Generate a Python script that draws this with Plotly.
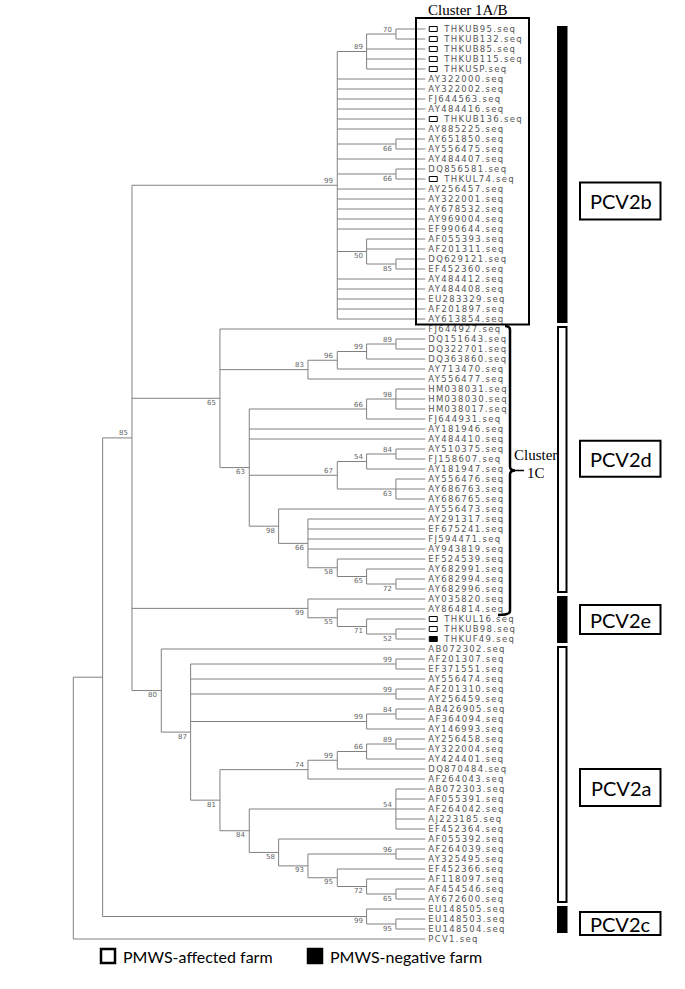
import plotly.graph_objects as go

# ------------------------------------------------------------------ data
CLADE_PCV2B = ("(((THKUB95,THKUB132)70,THKUB85,THKUB115,THKUSP)89,AY322000,AY322002,FJ644563,"
               "AY484416,THKUB136,AY885225,(AY651850,AY556475)66,AY484407,(DQ856581,THKUL74)66,"
               "AY256457,AY322001,AY678532,AY969004,EF990644,(AF055393,AF201311,(DQ629121,EF452360)85)50,"
               "AY484412,AY484408,EU283329,AF201897,AY613854)99")
CLADE_PCV2D = ("(FJ644927,((((DQ151643,DQ322701)89,DQ363860)99,AY713470)96,AY556477)83,"
               "(((HM038031,HM038030,HM038017)98,FJ644931)66,AY181946,AY484410,"
               "(((AY510375,FJ158607)84,AY181947)54,(AY556476,AY686763,AY686765)63)67,"
               "(AY556473,(AY291317,EF675241,FJ594471,AY943819,(EF524539,(AY682991,(AY682994,AY682996)72)65)58)66)98)63)65")
CLADE_PCV2E = "(AY035820,(AY864814,(THKUL16,(THKUB98,THKUF49)52)71)55)99"
CLADE_PCV2A = ("(AB072302,((AF201307,EF371551)99,AY556474,(AF201310,AY256459)99,((AB426905,AF364094)84,AY146993)99,"
               "(((((AY256458,AY322004)89,AY424401)66,DQ870484)99,AF264043)74,"
               "((AB072303,AF055391,AF264042,AJ223185,EF452364)54,"
               "(AF055392,((AF264039,AY325495)96,(EF452366,(AF118097,(AF454546,AY672600)65)72)95)93)58)84)81)87)80")
CLADE_PCV2C = "(EU148505,(EU148503,EU148504)95)99"
TREE = "(((" + CLADE_PCV2B + "," + CLADE_PCV2D + "," + CLADE_PCV2E + "," + CLADE_PCV2A + ")85," + CLADE_PCV2C + "),PCV1);"

OPEN_FARM = ["THKUB95", "THKUB132", "THKUB85", "THKUB115", "THKUSP", "THKUB136", "THKUL74",
             "THKUL16", "THKUB98"]
NEG_FARM = ["THKUF49"]

# middle children whose bootstrap value is printed under the branch (first leaf of that clade)
BOOT_BELOW_MIDDLE = ["AY651850", "DQ856581", "AF055393", "FJ644927", "AY035820"]

GENOTYPES = ["PCV2b", "PCV2d", "PCV2e", "PCV2a", "PCV2c"]
GT_FIRST = ["THKUB95", "FJ644927", "AY035820", "AB072302", "EU148505"]
GT_LAST = ["AY613854", "AY682996", "THKUF49", "AY672600", "EU148504"]
GT_FILLED = [True, False, True, False, True]

CLUSTER_1AB = ["THKUB95", "AY613854"]
CLUSTER_1C = ["FJ644927", "AY864814"]
CLUSTER_1AB_TEXT = "Cluster 1A/B"
CLUSTER_1C_TEXT = ["Cluster", "1C"]
LEGEND_TEXT = ["PMWS-affected farm", "PMWS-negative farm"]

# ------------------------------------------------------------------ style / geometry
W, H = 685, 989
X0, DX = 73.3, 29.33      # pixel of root level, pixels per level
Y0, DY = 29.0, 10.0       # pixel of first leaf, pixels per leaf
GT_BOX_CY = [201, 458.7, 619.5, 787.5, 923.5]
GT_BOX_H = [37, 36, 29, 37, 23]
LINE_C = "#808080"
TXT_C = "#555555"
LEAF_TEXT_DY = 0.13       # nudge leaf labels down (leaf units)


def px2x(p):
    return (p - X0) / DX


def py2y(p):
    return 1 + (p - Y0) / DY


# ------------------------------------------------------------------ newick parsing & layout
def parse(s):
    pos = [0]

    def label():
        st = pos[0]
        while pos[0] < len(s) and s[pos[0]] not in ",();":
            pos[0] += 1
        return s[st:pos[0]]

    def node():
        if s[pos[0]] == "(":
            pos[0] += 1
            kids = [node()]
            while s[pos[0]] == ",":
                pos[0] += 1
                kids.append(node())
            assert s[pos[0]] == ")"
            pos[0] += 1
            return {"kids": kids, "boot": label()}
        return {"kids": [], "name": label()}

    return node()


root = parse(TREE)
leaves = []


def layout(n):
    if not n["kids"]:
        leaves.append(n)
        n["y"] = len(leaves)
        n["h"] = 0
    else:
        for k in n["kids"]:
            layout(k)
        n["y"] = (n["kids"][0]["y"] + n["kids"][-1]["y"]) / 2
        n["h"] = max(k["h"] for k in n["kids"]) + 1


layout(root)
HT = root["h"]


def first_leaf(n):
    while n["kids"]:
        n = n["kids"][0]
    return n["name"]


lx, ly = [], []
boots = []


def walk(n, parent=None, idx=0):
    n["x"] = HT - n["h"]
    if n["kids"]:
        for i, k in enumerate(n["kids"]):
            walk(k, n, i)
        lx.extend([n["x"], n["x"], None])
        ly.extend([n["kids"][0]["y"], n["kids"][-1]["y"], None])
        for k in n["kids"]:
            lx.extend([n["x"], k["x"], None])
            ly.extend([k["y"], k["y"], None])
        if n.get("boot"):
            if idx == 0:
                above = True
            elif idx == len(parent["kids"]) - 1:
                above = False
            else:
                above = first_leaf(n) not in BOOT_BELOW_MIDDLE
            boots.append((n["x"], n["y"], n["boot"], above))


walk(root)

leaf_y = {lf["name"]: lf["y"] for lf in leaves}

fig = go.Figure()
fig.add_trace(go.Scatter(x=lx, y=ly, mode="lines", line=dict(color=LINE_C, width=1),
                         hoverinfo="skip", showlegend=False))

# leaf labels (text traces, start-anchored)
plain = [lf for lf in leaves if lf["name"] not in OPEN_FARM and lf["name"] not in NEG_FARM]
farm = [lf for lf in leaves if lf["name"] in OPEN_FARM or lf["name"] in NEG_FARM]
for grp, gap in ((plain, 428.3), (farm, 444.3)):
    fig.add_trace(go.Scatter(
        x=[px2x(gap)] * len(grp),
        y=[lf["y"] + LEAF_TEXT_DY for lf in grp],
        text=[lf["name"] + ".seq" for lf in grp],
        mode="text", textposition="middle right",
        textfont=dict(family="DejaVu Sans", size=8.5, color=TXT_C),
        hoverinfo="skip", showlegend=False, cliponaxis=False))

ann = []
shapes = []
for lf in farm:
    shapes.append(dict(type="rect", xref="x", yref="y", xsizemode="pixel", ysizemode="pixel",
                       xanchor=lf["x"], yanchor=lf["y"], x0=4, x1=12, y0=-2.5, y1=2.5,
                       line=dict(color="black", width=1),
                       fillcolor="black" if lf["name"] in NEG_FARM else "white"))

for bx, by, bt, above in boots:
    ann.append(dict(x=bx, y=by, text=bt, xanchor="right", yanchor="middle", xshift=-3,
                    yshift=4.5 if above else -4.5, showarrow=False, borderpad=0,
                    font=dict(family="DejaVu Sans", size=7, color="#666666")))

# cluster 1A/B box
y_top = leaf_y[CLUSTER_1AB[0]]
y_bot = leaf_y[CLUSTER_1AB[1]]
shapes.append(dict(type="rect", xref="x", yref="y", x0=px2x(416), x1=px2x(529),
                   y0=y_top - 1.1, y1=y_bot + 0.55, line=dict(color="black", width=2)))
ann.append(dict(x=px2x(468), y=y_top - 1.9, text=CLUSTER_1AB_TEXT, showarrow=False, xanchor="center",
                yanchor="middle", font=dict(family="Liberation Serif", size=15, color="black")))

# cluster 1C bracket
c_top = leaf_y[CLUSTER_1C[0]] - 0.3
c_bot = leaf_y[CLUSTER_1C[1]] + 0.6
c_mid = (c_top + c_bot) / 2


def P(xp, yv):
    return f"{px2x(xp):.4f},{yv:.4f}"


path = (f"M {P(505, c_top)} Q {P(510, c_top)} {P(510, c_top + 0.4)} L {P(510, c_mid - 0.4)} "
        f"Q {P(510, c_mid)} {P(515, c_mid)} Q {P(510, c_mid)} {P(510, c_mid + 0.4)} "
        f"L {P(510, c_bot - 0.4)} Q {P(510, c_bot)} {P(498, c_bot)}")
shapes.append(dict(type="path", xref="x", yref="y", path=path, line=dict(color="black", width=2.5)))
shapes.append(dict(type="line", xref="x", yref="y", x0=px2x(514), x1=px2x(524), y0=c_mid, y1=c_mid,
                   line=dict(color="black", width=1.5)))
ann.append(dict(x=px2x(512), y=c_mid - 1.55, text=CLUSTER_1C_TEXT[0], showarrow=False, xanchor="left",
                yanchor="middle", font=dict(family="Liberation Serif", size=15, color="black")))
ann.append(dict(x=px2x(525), y=c_mid + 0.25, text=CLUSTER_1C_TEXT[1], showarrow=False, xanchor="left",
                yanchor="middle", font=dict(family="Liberation Serif", size=15, color="black")))

# genotype bars and boxes
for g, f, l, filled, cy, bh in zip(GENOTYPES, GT_FIRST, GT_LAST, GT_FILLED, GT_BOX_CY, GT_BOX_H):
    shapes.append(dict(type="rect", xref="x", yref="y", x0=px2x(558), x1=px2x(566.5),
                       y0=leaf_y[f] - 0.2, y1=leaf_y[l] + 0.3,
                       line=dict(color="black", width=2), fillcolor="black" if filled else "white"))
    shapes.append(dict(type="rect", xref="x", yref="y", x0=px2x(580), x1=px2x(660.5),
                       y0=py2y(cy - bh / 2), y1=py2y(cy + bh / 2),
                       line=dict(color="black", width=2), fillcolor="white"))
    ann.append(dict(x=px2x(620.5), y=py2y(cy), text=g, showarrow=False, xanchor="center", yanchor="middle",
                    font=dict(family="Lato", size=20, color="black")))

# legend
ly_leg = py2y(956)
for i, (txt, fill) in enumerate(zip(LEGEND_TEXT, ["white", "black"])):
    sx = [101, 308][i]
    shapes.append(dict(type="rect", xref="x", yref="y", x0=px2x(sx), x1=px2x(sx + 14),
                       y0=py2y(949), y1=py2y(963), line=dict(color="black", width=2.5), fillcolor=fill))
    ann.append(dict(x=px2x(sx + 20), y=ly_leg, text=txt, showarrow=False, xanchor="left", yanchor="middle",
                    font=dict(family="Lato", size=16, color="black")))

fig.update_layout(
    width=W, height=H, autosize=False,
    margin=dict(l=0, r=0, t=0, b=0),
    paper_bgcolor="white", plot_bgcolor="white",
    xaxis=dict(range=[px2x(0), px2x(W)], visible=False, fixedrange=True),
    yaxis=dict(range=[py2y(H), py2y(0)], visible=False, fixedrange=True),
    annotations=ann, shapes=shapes, showlegend=False,
)
POST = ("document.body.style.margin='0px';document.body.style.overflow='hidden';"
        "document.querySelectorAll('g.textpoint text').forEach(function(t){t.style.letterSpacing='1.3px';});")
fig.write_html("out.html", post_script=POST, config={"displayModeBar": False})
